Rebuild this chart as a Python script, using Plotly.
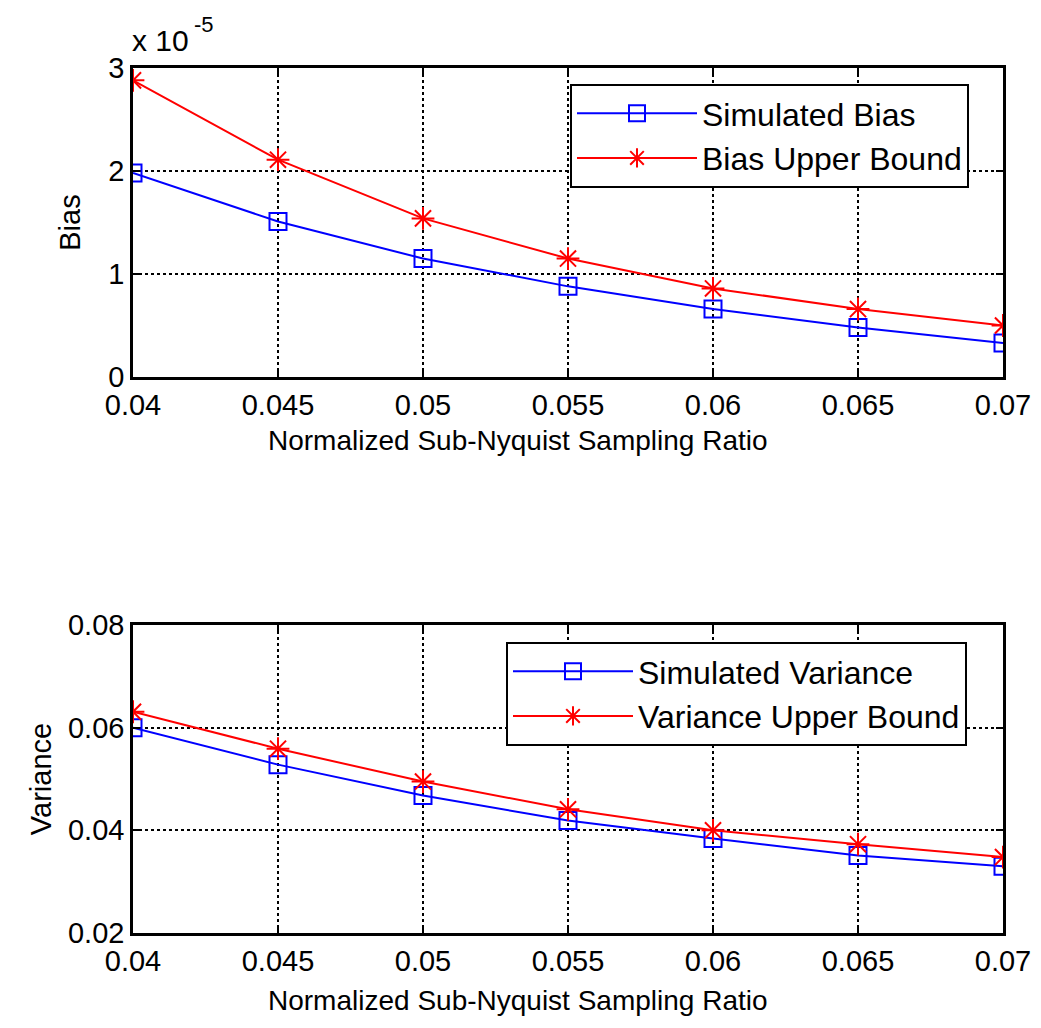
import plotly.graph_objects as go
from plotly.subplots import make_subplots

ratio = [0.04, 0.045, 0.05, 0.055, 0.06, 0.065, 0.07]
sim_bias = [1.98, 1.51, 1.15, 0.88, 0.66, 0.48, 0.33]          # x 1e-5
bias_bound = [2.88, 2.11, 1.54, 1.15, 0.86, 0.66, 0.50]        # x 1e-5
sim_var = [0.0600, 0.0528, 0.0468, 0.0419, 0.0384, 0.0351, 0.0330]
var_bound = [0.0631, 0.0559, 0.0495, 0.0441, 0.0400, 0.0373, 0.0348]

x_ticks = [0.04, 0.045, 0.05, 0.055, 0.06, 0.065, 0.07]
x_ticklabels = ["0.04", "0.045", "0.05", "0.055", "0.06", "0.065", "0.07"]
bias_ticks = [0, 1, 2, 3]
var_ticks = [0.02, 0.04, 0.06, 0.08]
var_ticklabels = ["0.02", "0.04", "0.06", "0.08"]
x_title = "Normalized Sub-Nyquist Sampling Ratio"

FONT = "Liberation Sans, Arial, sans-serif"
W, H = 1041, 1028

fig = make_subplots(rows=2, cols=1)

blue = "#0000FF"
red = "#FF0000"

fig.add_trace(go.Scatter(x=ratio, y=sim_bias, mode="lines+markers", name="Simulated Bias",
                         line=dict(color=blue, width=2),
                         marker=dict(symbol="square-open", size=17, color=blue, line=dict(width=2)),
                         legend="legend"), row=1, col=1)
fig.add_trace(go.Scatter(x=ratio, y=bias_bound, mode="lines+markers", name="Bias Upper Bound",
                         line=dict(color=red, width=2),
                         marker=dict(symbol="asterisk-open", size=19, color=red, line=dict(width=2, color=red)),
                         legend="legend"), row=1, col=1)
fig.add_trace(go.Scatter(x=ratio, y=sim_var, mode="lines+markers", name="Simulated Variance",
                         line=dict(color=blue, width=2),
                         marker=dict(symbol="square-open", size=17, color=blue, line=dict(width=2)),
                         legend="legend2"), row=2, col=1)
fig.add_trace(go.Scatter(x=ratio, y=var_bound, mode="lines+markers", name="Variance Upper Bound",
                         line=dict(color=red, width=2),
                         marker=dict(symbol="asterisk-open", size=19, color=red, line=dict(width=2, color=red)),
                         legend="legend2"), row=2, col=1)

xd = [133 / W, 1003 / W]
common_axis = dict(showline=True, linecolor="black", linewidth=2.5, mirror="ticks",
                   ticks="inside", ticklen=7, tickwidth=2, tickcolor="black",
                   showgrid=True, gridcolor="black", gridwidth=1.5, griddash="dot",
                   zeroline=False, automargin=False,
                   tickfont=dict(family=FONT, size=29, color="black"))

fig.update_xaxes(**common_axis, range=[0.04, 0.07], tickvals=x_ticks, ticktext=x_ticklabels, domain=xd)

fig.update_yaxes(**common_axis)
fig.update_yaxes(range=[0, 3], tickvals=bias_ticks, domain=[1 - 377 / H, 1 - 68 / H],
                 title=dict(text="Bias", font=dict(family=FONT, size=29, color="black"), standoff=20),
                 row=1, col=1)
fig.update_yaxes(range=[0.02, 0.08], tickvals=var_ticks, ticktext=var_ticklabels,
                 domain=[1 - 933 / H, 1 - 625 / H],
                 title=dict(text="Variance", font=dict(family=FONT, size=29, color="black"), standoff=8),
                 row=2, col=1)

legend_style = dict(bgcolor="white", bordercolor="black", borderwidth=2,
                    font=dict(family=FONT, size=32, color="black"),
                    xanchor="left", yanchor="top", itemwidth=120, tracegroupgap=0)
fig.update_layout(
    width=W, height=H, margin=dict(l=0, r=0, t=0, b=0),
    paper_bgcolor="white", plot_bgcolor="white",
    legend=dict(**legend_style, x=570 / W, y=1 - 84 / H),
    legend2=dict(**legend_style, x=506 / W, y=1 - 642 / H),
)

for yc in (440, 1000):
    fig.add_annotation(x=518 / W, y=1 - yc / H, xref="paper", yref="paper",
                       xanchor="center", yanchor="middle", showarrow=False,
                       text=x_title, font=dict(family=FONT, size=28, color="black"))

fig.add_annotation(x=130 / W, y=1 - 41 / H, xref="paper", yref="paper",
                   xanchor="left", yanchor="middle", showarrow=False,
                   text="x 10", font=dict(family=FONT, size=30, color="black"))
fig.add_annotation(x=192 / W, y=1 - 24 / H, xref="paper", yref="paper",
                   xanchor="left", yanchor="middle", showarrow=False,
                   text="-5", font=dict(family=FONT, size=22, color="black"))

fig.write_html("out.html")
